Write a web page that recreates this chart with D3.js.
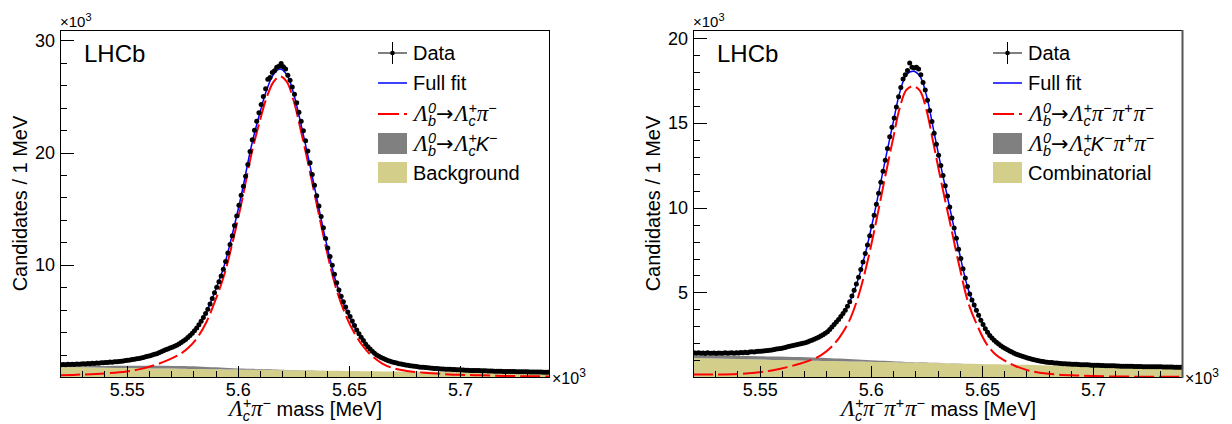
<!DOCTYPE html>
<html>
<head>
<meta charset="utf-8">
<script src="https://cdn.jsdelivr.net/npm/d3@7"></script>
<style>
  html, body { margin: 0; padding: 0; background: #fff; }
  svg { display: block; font-family: 'Liberation Sans', Arial, Helvetica, sans-serif; }
</style>
</head>
<body>
<svg id="chart" width="1232" height="424"></svg>
<script>
// 1 MeV bins, first bin starts at 5520 MeV; counts in units of 10^3
const binStart = 5520;
const binEnd = 5740;

const xTicks = [5550, 5600, 5650, 5700];
const yTicksLeft = [10, 20, 30];
const yTicksRight = [5, 10, 15, 20];

// Lb -> Lc pi
const dataLeft = [
  1.10, 1.12, 1.09, 1.13, 1.11, 1.14, 1.12, 1.15, 1.13, 1.16,
  1.18, 1.16, 1.20, 1.19, 1.22, 1.21, 1.24, 1.23, 1.27, 1.26,
  1.30, 1.29, 1.33, 1.32, 1.36, 1.35, 1.39, 1.41, 1.43, 1.46,
  1.50, 1.52, 1.55, 1.58, 1.62, 1.66, 1.70, 1.74, 1.80, 1.85,
  1.90, 1.96, 2.02, 2.08, 2.16, 2.25, 2.33, 2.42, 2.50, 2.58,
  2.65, 2.74, 2.84, 2.95, 3.07, 3.20, 3.35, 3.52, 3.70, 3.90,
  4.12, 4.37, 4.66, 4.97, 5.30, 5.65, 6.05, 6.50, 7.00, 7.50,
  8.00, 8.50, 9.00, 9.60, 10.30, 11.05, 11.80, 12.60, 13.50, 14.35,
  15.30, 16.20, 17.00, 17.90, 18.95, 20.10, 21.15, 22.00, 22.80, 23.55,
  24.30, 25.00, 25.70, 26.55, 26.70, 27.15, 27.30, 27.60, 27.70, 27.95,
  27.65, 27.45, 26.90, 26.45, 25.85, 25.20, 24.45, 23.60, 22.80, 21.95,
  21.05, 20.15, 19.10, 18.05, 17.10, 16.15, 15.25, 14.30, 13.30, 12.35,
  11.50, 10.75, 9.95, 9.15, 8.40, 7.75, 7.20, 6.70, 6.25, 5.80,
  5.40, 5.00, 4.60, 4.20, 3.85, 3.55, 3.25, 2.95, 2.70, 2.50,
  2.30, 2.12, 1.97, 1.85, 1.74, 1.64, 1.55, 1.47, 1.40, 1.34,
  1.29, 1.24, 1.19, 1.15, 1.11, 1.07, 1.04, 1.01, 0.98, 0.95,
  0.93, 0.90, 0.88, 0.86, 0.84, 0.82, 0.80, 0.78, 0.76, 0.75,
  0.73, 0.72, 0.71, 0.70, 0.69, 0.68, 0.67, 0.66, 0.65, 0.64,
  0.63, 0.62, 0.61, 0.60, 0.59, 0.59, 0.58, 0.57, 0.57, 0.56,
  0.55, 0.55, 0.54, 0.54, 0.53, 0.52, 0.52, 0.51, 0.51, 0.50,
  0.50, 0.49, 0.49, 0.48, 0.48, 0.47, 0.47, 0.47, 0.46, 0.46,
  0.46, 0.45, 0.45, 0.45, 0.44, 0.44, 0.44, 0.43, 0.43, 0.43,
];

// Lb -> Lc pi pi pi
const dataRight = [
  1.43, 1.41, 1.44, 1.40, 1.42, 1.39, 1.43, 1.41, 1.40, 1.42,
  1.39, 1.42, 1.40, 1.41, 1.43, 1.40, 1.42, 1.44, 1.41, 1.43,
  1.42, 1.45, 1.43, 1.46, 1.44, 1.47, 1.49, 1.47, 1.50, 1.52,
  1.52, 1.54, 1.55, 1.57, 1.58, 1.60, 1.63, 1.65, 1.67, 1.69,
  1.72, 1.75, 1.78, 1.81, 1.84, 1.87, 1.90, 1.93, 1.96, 1.99,
  2.03, 2.07, 2.12, 2.17, 2.23, 2.29, 2.35, 2.42, 2.49, 2.58,
  2.68, 2.80, 2.95, 3.10, 3.25, 3.40, 3.57, 3.75, 3.95, 4.18,
  4.45, 4.78, 5.12, 5.50, 5.90, 6.35, 6.80, 7.30, 7.80, 8.35,
  8.90, 9.55, 10.20, 10.85, 11.50, 12.15, 12.80, 13.50, 14.20, 14.75,
  15.30, 15.95, 16.55, 17.10, 17.60, 17.85, 18.10, 18.55, 18.30, 18.25,
  18.30, 18.20, 17.85, 17.40, 16.95, 16.35, 15.75, 15.10, 14.40, 13.75,
  13.10, 12.50, 11.90, 11.30, 10.70, 10.05, 9.40, 8.80, 8.20, 7.55,
  7.00, 6.40, 5.85, 5.35, 4.90, 4.55, 4.25, 3.95, 3.65, 3.35,
  3.10, 2.85, 2.65, 2.45, 2.30, 2.17, 2.05, 1.95, 1.85, 1.76,
  1.68, 1.61, 1.54, 1.47, 1.41, 1.35, 1.30, 1.25, 1.21, 1.16,
  1.12, 1.09, 1.05, 1.02, 0.99, 0.96, 0.93, 0.91, 0.89, 0.87,
  0.86, 0.85, 0.83, 0.82, 0.81, 0.80, 0.79, 0.78, 0.77, 0.77,
  0.76, 0.75, 0.75, 0.74, 0.73, 0.73, 0.72, 0.72, 0.71, 0.70,
  0.70, 0.69, 0.69, 0.68, 0.68, 0.67, 0.67, 0.66, 0.66, 0.66,
  0.65, 0.65, 0.64, 0.64, 0.64, 0.63, 0.63, 0.63, 0.62, 0.62,
  0.62, 0.62, 0.61, 0.61, 0.61, 0.61, 0.60, 0.60, 0.60, 0.60,
  0.60, 0.59, 0.59, 0.59, 0.59, 0.59, 0.58, 0.58, 0.58, 0.58,
];

// fit components, sampled at these masses
const fitMass = [
  5520, 5530, 5540, 5550, 5556, 5562, 5568, 5574, 5578, 5582,
  5586, 5590, 5594, 5598, 5602, 5606, 5610, 5613, 5616, 5619,
  5622, 5625, 5628, 5632, 5636, 5640, 5644, 5648, 5652, 5656,
  5660, 5665, 5670, 5676, 5684, 5692, 5700, 5710, 5720, 5730, 5740,
];

const fullLeft = [
  1.10, 1.18, 1.30, 1.50, 1.70, 2.02, 2.46, 3.01, 3.60, 4.50,
  5.85, 7.75, 10.00, 13.10, 16.60, 20.50, 23.60, 25.60, 26.95, 27.45,
  26.95, 25.35, 22.90, 19.30, 15.50, 11.80, 8.60, 6.30, 4.60, 3.35,
  2.45, 1.70, 1.27, 1.02, 0.84, 0.72, 0.62, 0.56, 0.50, 0.46, 0.43,
];
const signalLeft = [
  0.15, 0.22, 0.32, 0.50, 0.70, 1.02, 1.46, 2.04, 2.65, 3.57,
  4.95, 6.89, 9.18, 12.31, 15.84, 19.77, 22.90, 24.92, 26.28, 26.80,
  26.32, 24.72, 22.29, 18.71, 14.92, 11.24, 8.05, 5.76, 4.07, 2.83,
  1.93, 1.20, 0.78, 0.54, 0.38, 0.27, 0.19, 0.15, 0.10, 0.07, 0.05,
];
const misidLeft = [
  0.06, 0.10, 0.15, 0.20, 0.22, 0.24, 0.25, 0.24, 0.23, 0.22,
  0.20, 0.18, 0.15, 0.13, 0.11, 0.09, 0.07, 0.06, 0.05, 0.04,
  0.035, 0.03, 0.02, 0.015, 0.01, 0.005, 0, 0, 0, 0,
  0, 0, 0, 0, 0, 0, 0, 0, 0, 0, 0,
];
const bkgLeft = [
  0.89, 0.86, 0.83, 0.80, 0.78, 0.76, 0.75, 0.73, 0.72, 0.71,
  0.70, 0.68, 0.67, 0.66, 0.65, 0.64, 0.63, 0.62, 0.62, 0.61,
  0.60, 0.60, 0.59, 0.58, 0.57, 0.56, 0.55, 0.54, 0.53, 0.52,
  0.52, 0.50, 0.49, 0.48, 0.46, 0.45, 0.43, 0.41, 0.40, 0.39, 0.38,
];

const fullRight = [
  1.42, 1.41, 1.43, 1.51, 1.61, 1.77, 1.96, 2.20, 2.45, 2.85,
  3.45, 4.30, 5.65, 7.55, 9.90, 12.50, 15.00, 16.80, 17.85, 18.07,
  17.80, 16.65, 14.75, 12.15, 9.70, 7.25, 5.10, 3.78, 2.73, 2.10,
  1.72, 1.38, 1.14, 0.95, 0.82, 0.75, 0.70, 0.65, 0.62, 0.60, 0.58,
];
const signalRight = [
  0.15, 0.15, 0.18, 0.28, 0.40, 0.57, 0.78, 1.05, 1.32, 1.74,
  2.36, 3.23, 4.61, 6.54, 8.92, 11.54, 14.07, 15.89, 16.96, 17.18,
  16.93, 15.79, 13.91, 11.32, 8.89, 6.45, 4.32, 3.01, 1.97, 1.35,
  0.98, 0.65, 0.42, 0.25, 0.14, 0.09, 0.06, 0.03, 0.02, 0.02, 0.01,
];
const misidRight = [
  0.15, 0.17, 0.19, 0.20, 0.20, 0.20, 0.20, 0.19, 0.18, 0.17,
  0.16, 0.15, 0.13, 0.11, 0.09, 0.08, 0.06, 0.05, 0.04, 0.04,
  0.03, 0.03, 0.02, 0.02, 0.01, 0.01, 0, 0, 0, 0,
  0, 0, 0, 0, 0, 0, 0, 0, 0, 0, 0,
];
const combRight = [
  1.12, 1.09, 1.06, 1.03, 1.01, 1.00, 0.98, 0.96, 0.95, 0.94,
  0.93, 0.92, 0.91, 0.90, 0.89, 0.88, 0.87, 0.86, 0.85, 0.85,
  0.84, 0.83, 0.82, 0.81, 0.80, 0.79, 0.78, 0.77, 0.76, 0.75,
  0.74, 0.73, 0.72, 0.70, 0.68, 0.66, 0.64, 0.62, 0.60, 0.58, 0.57,
];

// text pieces (ROOT-like latex)
const G = t => ({ t, f: 'greek' });
const T = t => ({ t, f: 'roman' });
const I = t => ({ t, f: 'ital' });
const SUP = t => ({ t, f: 'ital', pos: 'sup' });
const SUB = t => ({ t, f: 'ital', pos: 'sub', stack: true });
const ARROW = { t: '→', f: 'arrow' };

const lambdaB = [G('Λ'), SUP('0'), SUB('b')];
const lambdaC = [G('Λ'), SUP('+'), SUB('c')];
const piMinus = [G('π'), SUP('−')];
const piPlus = [G('π'), SUP('+')];

const legendLeft = [
  [T('Data')],
  [T('Full fit')],
  [...lambdaB, ARROW, ...lambdaC, ...piMinus],
  [...lambdaB, ARROW, ...lambdaC, I('K'), SUP('−')],
  [T('Background')],
];
const legendRight = [
  [T('Data')],
  [T('Full fit')],
  [...lambdaB, ARROW, ...lambdaC, ...piMinus, ...piPlus, ...piMinus],
  [...lambdaB, ARROW, ...lambdaC, I('K'), SUP('−'), ...piPlus, ...piMinus],
  [T('Combinatorial')],
];
const titleLeft = [...lambdaC, ...piMinus, T(' mass [MeV]')];
const titleRight = [...lambdaC, ...piMinus, ...piPlus, ...piMinus, T(' mass [MeV]')];

const colors = {
  full: '#0000ff',
  signal: '#ff0000',
  misid: '#808080',
  bkg: '#d3cf8b',
};

function latex(text, tokens, size) {
  let shift = 0;
  let prev = null;
  tokens.forEach(tok => {
    const pos = tok.pos || 'base';
    const target = pos === 'sup' ? -0.4 * size : pos === 'sub' ? 0.26 * size : 0;
    const fs = pos === 'base' ? size : size * 0.72;
    const span = text.append('tspan')
      .attr('dy', target - shift)
      .text(tok.t);
    shift = target;
    if (tok.f === 'greek') {
      span.attr('font-family', '"Liberation Serif", "Times New Roman", serif')
        .attr('font-style', 'italic')
        .attr('font-size', fs * 1.15)
        .attr('dx', 1);
    } else if (tok.f === 'ital') {
      span.attr('font-style', 'italic').attr('font-size', fs);
    } else if (tok.f === 'arrow') {
      span.attr('font-family', '"DejaVu Sans", sans-serif').attr('font-size', fs * 1.05);
    } else {
      span.attr('font-size', fs);
    }
    if (tok.stack && prev) span.attr('dx', -prev.node().getComputedTextLength());
    prev = span;
  });
  if (shift) text.append('tspan').attr('dy', -shift).text('');
}

function drawPanel(svg, cfg) {
  const { left, right, top, bottom } = cfg;
  const panel = svg.append('g');

  const x = d3.scaleLinear().domain([binStart, binEnd]).range([left, right]);
  const y = d3.scaleLinear().domain([0, cfg.yMax]).range([bottom, top]);

  const clipId = `clip-${cfg.id}`;
  panel.append('clipPath').attr('id', clipId)
    .append('rect')
      .attr('x', left).attr('y', top)
      .attr('width', right - left).attr('height', bottom - top);

  const plot = panel.append('g').attr('clip-path', `url(#${clipId})`);

  // stacked background components
  const table = fitMass.map((m, i) => ({
    m,
    bkg: cfg.bkg[i],
    misid: cfg.misid[i],
    full: cfg.full[i],
    signal: cfg.signal[i],
  }));
  const stacked = d3.stack().keys(['bkg', 'misid'])(table);
  const area = d3.area()
    .x(d => x(d.data.m))
    .y0(d => y(d[0]))
    .y1(d => y(d[1]))
    .curve(d3.curveMonotoneX);

  plot.append('path')
    .attr('d', area(stacked[0]))
    .attr('fill', colors.bkg);
  plot.append('path')
    .attr('d', area(stacked[1]))
    .attr('fill', colors.misid);

  const line = key => d3.line()
    .x(d => x(d.m))
    .y(d => y(d[key]))
    .curve(d3.curveCatmullRom.alpha(0.5));

  plot.append('path')
    .attr('d', line('signal')(table))
    .attr('fill', 'none')
    .attr('stroke', colors.signal)
    .attr('stroke-width', 2)
    .attr('stroke-dasharray', '20,5');

  plot.append('path')
    .attr('d', line('full')(table))
    .attr('fill', 'none')
    .attr('stroke', colors.full)
    .attr('stroke-width', 1.5);

  // data points
  const bins = d3.range(binStart + 0.5, binEnd, 1);
  plot.append('g')
    .selectAll('circle')
    .data(cfg.data)
    .join('circle')
      .attr('cx', (d, i) => x(bins[i]))
      .attr('cy', d => y(d))
      .attr('r', 2.5)
      .attr('fill', '#000');

  // axes (ticks point inwards)
  const axisX = panel.append('g').attr('transform', `translate(0, ${bottom})`);
  axisX.append('g')
    .call(d3.axisBottom(x).tickValues(d3.range(binStart + 10, binEnd, 10)).tickSize(-6).tickFormat(''));
  axisX.append('g')
    .call(d3.axisBottom(x).tickValues(xTicks).tickSize(-11).tickPadding(6)
      .tickFormat(d => d / 1000));

  const axisY = panel.append('g').attr('transform', `translate(${left}, 0)`);
  axisY.append('g')
    .call(d3.axisLeft(y).tickValues(d3.range(cfg.yMinor, cfg.yMax, cfg.yMinor)).tickSize(-7).tickFormat(''));
  axisY.append('g')
    .call(d3.axisLeft(y).tickValues(cfg.yTicks).tickSize(-14).tickPadding(5));

  panel.selectAll('.domain').remove();
  panel.selectAll('.tick line').attr('stroke', '#000').attr('shape-rendering', 'crispEdges');
  panel.selectAll('.tick text')
    .attr('font-size', 18)
    .attr('font-family', '"Liberation Sans", Arial, sans-serif')
    .attr('fill', '#000');

  // frame
  panel.append('rect')
    .attr('x', left + 0.5).attr('y', top + 0.5)
    .attr('width', right - left).attr('height', bottom - top)
    .attr('fill', 'none')
    .attr('stroke', '#000')
    .attr('stroke-width', 1);
  if (cfg.edge) {
    panel.append('line')
      .attr('x1', right + 0.5).attr('x2', right + 0.5)
      .attr('y1', top).attr('y2', bottom + 1)
      .attr('stroke', cfg.edge)
      .attr('stroke-width', 2);
  }

  // exponent labels
  const expTop = panel.append('text')
    .attr('x', left).attr('y', 27)
    .attr('font-size', 15);
  expTop.append('tspan').text('×10');
  expTop.append('tspan').attr('dy', -6).attr('font-size', 11).text('3');

  const expRight = panel.append('text')
    .attr('x', right + 3).attr('y', bottom + 7)
    .attr('font-size', 16);
  expRight.append('tspan').text('×10');
  expRight.append('tspan').attr('dy', -7).attr('font-size', 12).text('3');

  // axis titles
  panel.append('text')
    .attr('transform', `translate(${left - 33}, ${(top + bottom) / 2}) rotate(-90)`)
    .attr('text-anchor', 'middle')
    .attr('font-size', 20)
    .text('Candidates / 1 MeV');

  const xTitle = panel.append('text')
    .attr('x', (left + right) / 2)
    .attr('y', 416)
    .attr('text-anchor', 'middle')
    .attr('font-size', 20);
  latex(xTitle, cfg.title, 20);

  panel.append('text')
    .attr('x', left + 24)
    .attr('y', 62)
    .attr('font-size', 24)
    .text('LHCb');

  // legend
  const legend = panel.append('g').attr('transform', `translate(${cfg.legendX}, 0)`);
  const rowY = [53, 83, 114, 144, 173];
  const symW = 29;

  rowY.forEach((ry, i) => {
    const row = legend.append('g').attr('transform', `translate(0, ${ry})`);
    if (i === 0) {
      row.append('line').attr('x1', 0).attr('x2', symW).attr('stroke', '#000');
      row.append('line').attr('x1', symW / 2).attr('x2', symW / 2)
        .attr('y1', -11).attr('y2', 11).attr('stroke', '#000');
      row.append('circle').attr('cx', symW / 2).attr('r', 2.3).attr('fill', '#000');
    } else if (i === 1) {
      row.append('line').attr('x1', 0).attr('x2', symW)
        .attr('stroke', colors.full).attr('stroke-width', 1.5);
    } else if (i === 2) {
      row.append('line').attr('x1', 0).attr('x2', symW)
        .attr('stroke', colors.signal).attr('stroke-width', 2)
        .attr('stroke-dasharray', '21,5');
    } else {
      row.append('rect')
        .attr('x', 0).attr('y', -11)
        .attr('width', symW).attr('height', 21)
        .attr('fill', i === 3 ? colors.misid : colors.bkg);
    }
    const label = row.append('text')
      .attr('x', symW + 6)
      .attr('y', 7)
      .attr('font-size', 20);
    latex(label, cfg.legend[i], 20);
  });
}

const svg = d3.select('#chart');

drawPanel(svg, {
  id: 'left',
  left: 60, right: 549, top: 30, bottom: 377,
  yMax: 30.93, yTicks: yTicksLeft, yMinor: 2,
  data: dataLeft,
  full: fullLeft, signal: signalLeft, misid: misidLeft, bkg: bkgLeft,
  legend: legendLeft, legendX: 378,
  title: titleLeft,
});

drawPanel(svg, {
  id: 'right',
  left: 693, right: 1182, top: 30, bottom: 377,
  yMax: 20.5, yTicks: yTicksRight, yMinor: 1,
  data: dataRight,
  full: fullRight, signal: signalRight, misid: misidRight, bkg: combRight,
  legend: legendRight, legendX: 993,
  title: titleRight,
  edge: '#555',
});
</script>
</body>
</html>
